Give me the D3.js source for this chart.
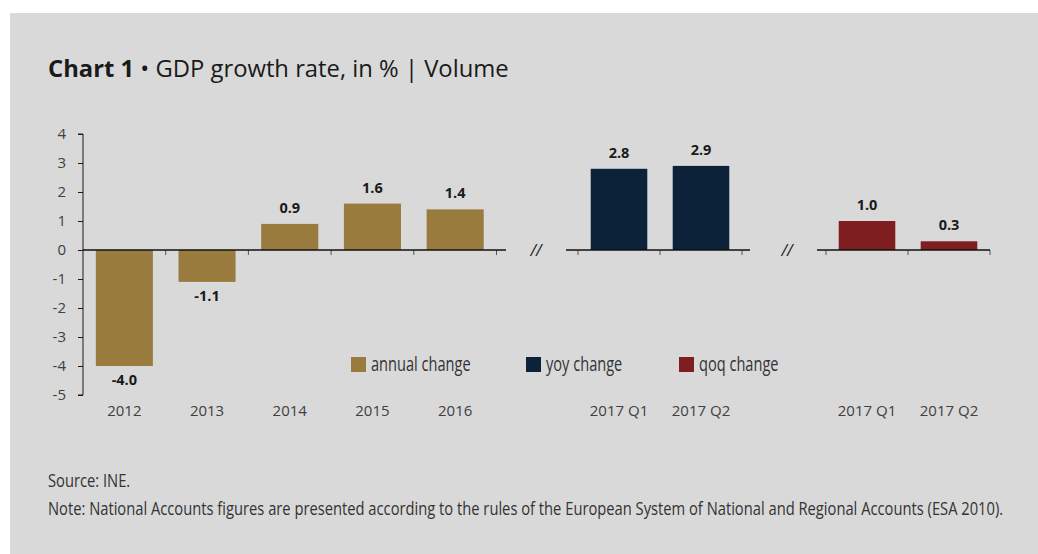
<!DOCTYPE html>
<html>
<head>
<meta charset="utf-8">
<script src="https://cdn.jsdelivr.net/npm/d3@7"></script>
<style>
  html, body { margin: 0; padding: 0; background: #ffffff; }
  svg { display: block; font-family: "Open Sans", sans-serif; }
</style>
</head>
<body>
<svg id="chart" width="1038" height="554"></svg>
<script>
// GDP growth rate, in % (volume)
const annualYears = ["2012", "2013", "2014", "2015", "2016"];
const annualValues = [-4.0, -1.1, 0.9, 1.6, 1.4];
const yoyQuarters = ["2017 Q1", "2017 Q2"];
const yoyValues = [2.8, 2.9];
const qoqQuarters = ["2017 Q1", "2017 Q2"];
const qoqValues = [1.0, 0.3];
const yTicks = [4, 3, 2, 1, 0, -1, -2, -3, -4, -5];
const legendLabels = ["annual change", "yoy change", "qoq change"];

const colors = { annual: "#9a7b3e", yoy: "#0c2239", qoq: "#7e1e21" };

const svg = d3.select("#chart");

// panel background
svg.append("rect").attr("x", 10).attr("y", 13).attr("width", 1028).attr("height", 541)
  .attr("fill", "#d9d9d9");

// title
const title = svg.append("text").attr("x", 48).attr("y", 77)
  .attr("font-size", 23.8).attr("fill", "#1a1a1a");
title.append("tspan").attr("font-weight", 700).text("Chart 1");
title.append("tspan").text(" \u2022 GDP growth rate, in % | Volume");

// shared value scale
const y = d3.scaleLinear().domain([-5, 4]).range([395, 134]);

// y axis
const yAxis = svg.append("g").attr("transform", "translate(83,0)")
  .call(d3.axisLeft(y).tickValues(yTicks).tickSize(5).tickPadding(12).tickFormat(d => String(d)));
yAxis.select(".domain").attr("stroke", "#1a1a1a").attr("d", `M-5,${y(4)}H0V${y(-5)}H-5`);
yAxis.selectAll(".tick line").attr("stroke", "#1a1a1a");
yAxis.selectAll(".tick text").attr("font-size", 15).attr("fill", "#404040")
  .attr("font-family", "Open Sans");

// one panel per series; the axis is broken between them
const groups = [
  { key: "annual", cats: annualYears, vals: annualValues, range: [83, 496.5], line: [83, 506], firstTick: false },
  { key: "yoy", cats: yoyQuarters, vals: yoyValues, range: [578, 742], line: [566, 750], firstTick: true },
  { key: "qoq", cats: qoqQuarters, vals: qoqValues, range: [826, 990], line: [817, 990], firstTick: true }
];

groups.forEach(gr => {
  const x = d3.scaleBand().domain(gr.cats).range(gr.range).paddingInner(0.31).paddingOuter(0.155);
  const g = svg.append("g");
  const data = gr.cats.map((c, i) => ({ cat: c, val: gr.vals[i] }));

  // bars
  g.selectAll("rect.bar").data(data).join("rect").attr("class", "bar")
    .attr("x", d => x(d.cat))
    .attr("width", x.bandwidth())
    .attr("y", d => y(Math.max(0, d.val)))
    .attr("height", d => Math.abs(y(d.val) - y(0)))
    .attr("fill", colors[gr.key]);

  // category boundary ticks
  const step = x.step();
  const bounds = d3.range(gr.cats.length + 1).map(i => gr.range[0] + i * step)
    .filter((b, i) => i > 0 || gr.firstTick);
  g.selectAll("line.ctick").data(bounds).join("line").attr("class", "ctick")
    .attr("x1", d => d).attr("x2", d => d)
    .attr("y1", y(0)).attr("y2", y(0) + 5)
    .attr("stroke", "#555").attr("stroke-width", 1);

  // zero line
  g.append("line").attr("x1", gr.line[0]).attr("x2", gr.line[1])
    .attr("y1", y(0)).attr("y2", y(0))
    .attr("stroke", "#111").attr("stroke-width", 1.3);

  // value labels
  g.selectAll("text.val").data(data).join("text").attr("class", "val")
    .attr("x", d => x(d.cat) + x.bandwidth() / 2)
    .attr("y", d => d.val >= 0 ? y(d.val) - 11 : y(d.val) + 19)
    .attr("text-anchor", "middle").attr("font-size", 14.5).attr("font-weight", 700)
    .attr("fill", "#1a1a1a")
    .text(d => d.val.toFixed(1));

  // category labels
  g.selectAll("text.cat").data(data).join("text").attr("class", "cat")
    .attr("x", d => x(d.cat) + x.bandwidth() / 2)
    .attr("y", 416)
    .attr("text-anchor", "middle").attr("font-size", 15).attr("fill", "#404040")
    .text(d => d.cat);
});

// axis break marks
[536, 787].forEach(bx => {
  svg.append("text").attr("x", bx).attr("y", y(0) + 6).attr("text-anchor", "middle")
    .attr("font-size", 16).attr("font-style", "italic").attr("fill", "#222").text("//");
});

// legend
const legendX = [351, 526, 679];
const legendKeys = ["annual", "yoy", "qoq"];
legendKeys.forEach((k, i) => {
  svg.append("rect").attr("x", legendX[i]).attr("y", 357).attr("width", 15).attr("height", 15)
    .attr("fill", colors[k]);
  svg.append("text").attr("transform", `translate(${legendX[i] + 20},371) scale(0.73,1)`)
    .attr("font-size", 20).attr("fill", "#333").text(legendLabels[i]);
});

// notes
svg.append("text").attr("transform", "translate(48,487) scale(0.818,1)")
  .attr("font-size", 18).attr("fill", "#333").text("Source: INE.");
svg.append("text").attr("transform", "translate(48,515) scale(0.818,1)")
  .attr("font-size", 18).attr("fill", "#333")
  .text("Note: National Accounts figures are presented according to the rules of the European System of National and Regional Accounts (ESA 2010).");
</script>
</body>
</html>
